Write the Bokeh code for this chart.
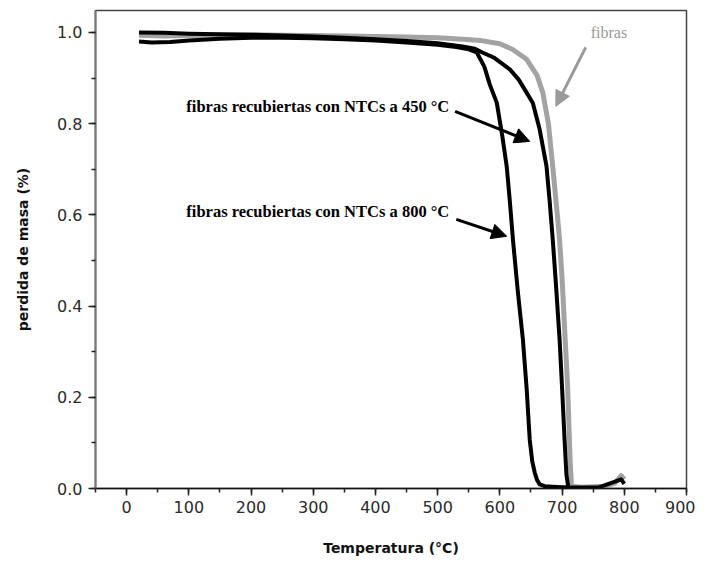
from bokeh.plotting import figure
from bokeh.models import Range1d, FixedTicker, Arrow, NormalHead, ColumnDataSource
from bokeh.core.properties import value
from bokeh.embed import file_html
from bokeh.resources import INLINE

# ---- data ----
temp_fibras = [20, 60, 100, 150, 200, 250, 300, 350, 400, 450, 500, 540, 570, 600, 620, 643,
               660, 669, 678, 685, 691, 696, 700, 703, 706, 709, 711, 713, 715, 730, 750, 770,
               785, 795, 800]
mass_fibras = [0.994, 0.992, 0.993, 0.994, 0.995, 0.994, 0.993, 0.992, 0.991, 0.990, 0.988,
               0.985, 0.982, 0.975, 0.963, 0.941, 0.905, 0.868, 0.80, 0.706, 0.62, 0.546, 0.46,
               0.38, 0.30, 0.22, 0.14, 0.06, 0.005, 0.003, 0.004, 0.005, 0.012, 0.028, 0.02]

temp_450 = [20, 60, 100, 150, 200, 250, 300, 350, 400, 450, 500, 540, 560, 572, 590, 616, 630,
            643, 653, 664, 675, 680, 685, 690, 696, 700, 704, 707, 710, 730, 760, 785, 795, 800]
mass_450 = [1.0, 0.999, 0.997, 0.996, 0.995, 0.993, 0.991, 0.988, 0.985, 0.981, 0.976, 0.969,
            0.964, 0.956, 0.945, 0.919, 0.897, 0.868, 0.845, 0.787, 0.706, 0.63, 0.546, 0.45,
            0.327, 0.22, 0.107, 0.03, 0.003, 0.002, 0.003, 0.015, 0.02, 0.01]

temp_800 = [20, 40, 70, 100, 150, 200, 250, 300, 350, 400, 450, 500, 530, 550, 563, 575, 584,
            595, 604, 611, 616, 621, 629, 637, 643, 648, 652, 656, 660, 664, 672, 685, 700, 710]
mass_800 = [0.98, 0.978, 0.979, 0.982, 0.986, 0.988, 0.988, 0.987, 0.985, 0.982, 0.978, 0.973,
            0.968, 0.963, 0.956, 0.925, 0.885, 0.846, 0.772, 0.706, 0.63, 0.546, 0.43, 0.327,
            0.22, 0.107, 0.06, 0.035, 0.018, 0.009, 0.005, 0.004, 0.003, 0.003]

x_ticks = [0, 100, 200, 300, 400, 500, 600, 700, 800, 900]
y_ticks = [0.0, 0.2, 0.4, 0.6, 0.8, 1.0]
y_tick_labels = ["0.0", "0.2", "0.4", "0.6", "0.8", "1.0"]

label_texts = ["fibras recubiertas con NTCs a 450 °C",
               "fibras recubiertas con NTCs a 800 °C"]
label_x = [96, 96]
label_y = [0.838, 0.607]

fibras_text = "fibras"
fibras_text_x = 746
fibras_text_y = 1.0

# arrows: (x_start, y_start, x_end, y_end)
arrow_450 = (528, 0.827, 648, 0.761)
arrow_800 = (530, 0.590, 611, 0.553)
arrow_fibras = (738, 0.967, 690, 0.838)

# ---- figure ----
p = figure(width=695, height=558, output_backend="svg", toolbar_location=None,
           x_range=Range1d(-50, 900), y_range=Range1d(0, 1.048),
           min_border_left=95, min_border_right=9, min_border_top=10, min_border_bottom=70)
p.background_fill_color = "white"
p.border_fill_color = "white"
p.grid.visible = False
p.outline_line_color = "#444444"
p.outline_line_width = 1.5

p.line(temp_fibras, mass_fibras, line_color="#a3a3a3", line_width=5, line_join="round")
p.line(temp_450, mass_450, line_color="black", line_width=4, line_join="round")
p.line(temp_800, mass_800, line_color="black", line_width=4, line_join="round")

src = ColumnDataSource(dict(x=label_x, y=label_y, t=label_texts))
p.text(x="x", y="y", text="t", source=src, text_font=value("Liberation Serif"),
       text_font_style="bold", text_font_size="16.5px", text_color="black",
       text_baseline="middle", text_align="left")
p.text(x=[fibras_text_x], y=[fibras_text_y], text=[fibras_text],
       text_font=value("Liberation Serif"), text_font_size="16px", text_color="#9a9a9a",
       text_baseline="middle", text_align="left")

for (xs, ys, xe, ye), col in [(arrow_450, "black"), (arrow_800, "black"), (arrow_fibras, "#9a9a9a")]:
    p.add_layout(Arrow(end=NormalHead(size=15, fill_color=col, line_color=col),
                       x_start=xs, y_start=ys, x_end=xe, y_end=ye,
                       line_color=col, line_width=3))

# axes
p.xaxis.ticker = FixedTicker(ticks=x_ticks, minor_ticks=list(range(-50, 901, 50)))
p.yaxis.ticker = FixedTicker(ticks=y_ticks, minor_ticks=[i / 10 for i in range(0, 11)])
p.yaxis.major_label_overrides = {t: l for t, l in zip(y_ticks, y_tick_labels)}

for ax in (p.xaxis, p.yaxis):
    ax.major_tick_out = 7
    ax.major_tick_in = 0
    ax.minor_tick_out = 4
    ax.minor_tick_in = 0
    ax.major_label_text_font = "DejaVu Sans"
    ax.major_label_text_font_size = "16px"
    ax.major_label_text_color = "#2a2a2a"
    ax.axis_label_text_font = "DejaVu Sans"
    ax.axis_label_text_font_size = "14px"
    ax.axis_label_text_font_style = "bold"
    ax.axis_label_text_color = "#111111"
    ax.major_tick_line_color = "#222222"
    ax.minor_tick_line_color = "#222222"
    ax.major_tick_line_width = 1.5
    ax.minor_tick_line_width = 1.5

p.xaxis.axis_line_color = "#111111"
p.xaxis.axis_line_width = 1.5
p.yaxis.axis_line_color = "#777777"
p.yaxis.axis_line_width = 2

p.xaxis.axis_label = "Temperatura (°C)"
p.yaxis.axis_label = "perdida de masa (%)"
p.xaxis.major_label_standoff = 5
p.yaxis.major_label_standoff = 6
p.xaxis.axis_label_standoff = 24
p.yaxis.axis_label_standoff = 23

open("out.html", "w").write(file_html(p, INLINE))
